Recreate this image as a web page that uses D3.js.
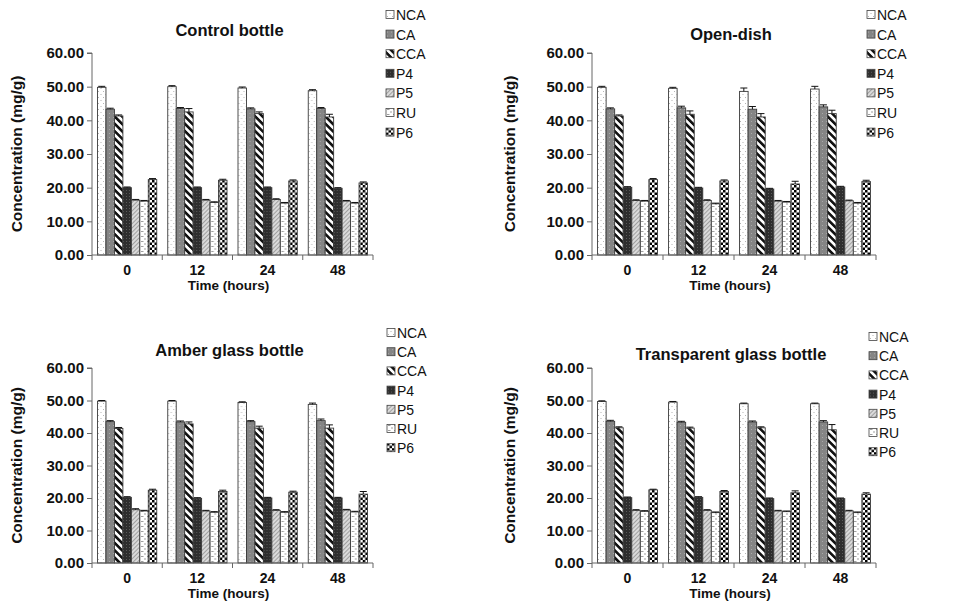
<!DOCTYPE html>
<meta charset="utf-8">
<script src="https://cdn.jsdelivr.net/npm/d3@7"></script>
<style>
  body { margin: 0; background: #fff; }
  text { font-family: "Liberation Sans", Arial, sans-serif; fill: #111; }
</style>
<div id="chart"></div>
<script>
  // series / category names
  const compounds = ["NCA", "CA", "CCA", "P4", "P5", "RU", "P6"];
  const times = ["0", "12", "24", "48"];
  const yTicks = [0, 10, 20, 30, 40, 50, 60];
  const titles = ["Control bottle", "Open-dish", "Amber glass bottle", "Transparent glass bottle"];

  // mean concentration (mg/g), one row per time point, columns follow `compounds`
  const controlBottle = [
    [49.8, 43.3, 41.3, 20.0, 16.3, 16.0, 22.4],
    [50.0, 43.5, 42.5, 20.0, 16.3, 15.6, 22.2],
    [49.6, 43.4, 42.0, 20.0, 16.5, 15.4, 22.0],
    [48.8, 43.5, 41.0, 19.8, 16.0, 15.4, 21.4]
  ];
  const openDish = [
    [49.8, 43.4, 41.3, 20.1, 16.2, 16.0, 22.4],
    [49.5, 43.7, 41.8, 19.9, 16.2, 15.2, 22.0],
    [48.6, 43.3, 41.0, 19.6, 16.0, 15.7, 21.1],
    [49.3, 44.0, 42.0, 20.2, 16.1, 15.4, 21.8]
  ];
  const amberBottle = [
    [49.8, 43.5, 41.4, 20.2, 16.4, 16.0, 22.4],
    [49.8, 43.4, 42.8, 19.9, 16.0, 15.6, 22.0],
    [49.4, 43.5, 41.5, 20.0, 16.2, 15.6, 21.8],
    [48.8, 43.8, 41.5, 20.0, 16.3, 15.7, 21.2]
  ];
  const transparentBottle = [
    [49.7, 43.6, 41.6, 20.1, 16.2, 15.9, 22.5],
    [49.5, 43.3, 41.5, 20.2, 16.2, 15.5, 22.0],
    [49.0, 43.4, 41.6, 19.8, 16.0, 15.8, 21.6],
    [49.0, 43.4, 41.0, 19.8, 16.0, 15.5, 21.2]
  ];

  // standard deviations (upper error bars)
  const controlErr = [
    [0.3, 0.3, 0.3, 0.2, 0.2, 0.2, 0.3],
    [0.3, 0.3, 1.0, 0.2, 0.2, 0.2, 0.3],
    [0.3, 0.3, 0.5, 0.2, 0.2, 0.2, 0.3],
    [0.3, 0.3, 0.8, 0.2, 0.2, 0.2, 0.3]
  ];
  const openErr = [
    [0.3, 0.3, 0.3, 0.2, 0.2, 0.2, 0.3],
    [0.3, 0.5, 1.0, 0.2, 0.2, 0.2, 0.3],
    [1.0, 0.8, 1.0, 0.2, 0.2, 0.2, 0.8],
    [0.8, 0.6, 1.0, 0.2, 0.2, 0.2, 0.4]
  ];
  const amberErr = [
    [0.2, 0.3, 0.3, 0.2, 0.3, 0.2, 0.3],
    [0.2, 0.3, 0.6, 0.2, 0.2, 0.2, 0.4],
    [0.2, 0.3, 0.6, 0.2, 0.2, 0.2, 0.3],
    [0.4, 0.5, 1.0, 0.2, 0.2, 0.2, 0.8]
  ];
  const transparentErr = [
    [0.2, 0.3, 0.3, 0.2, 0.2, 0.2, 0.2],
    [0.2, 0.3, 0.3, 0.2, 0.2, 0.2, 0.3],
    [0.2, 0.3, 0.3, 0.2, 0.2, 0.2, 0.6],
    [0.2, 0.4, 1.6, 0.2, 0.2, 0.2, 0.4]
  ];

  const panelData = [controlBottle, openDish, amberBottle, transparentBottle];
  const panelErr = [controlErr, openErr, amberErr, transparentErr];

  // layout for each panel
  const layout = [
    { x0: 92, x1: 373, top: 53, bottom: 255, titleY: 36, legX: 386, legY: 15, legStep: 19.6, yLabX: 22 },
    { x0: 592, x1: 876, top: 53, bottom: 255, titleY: 40, legX: 867, legY: 15, legStep: 19.6, yLabX: 515 },
    { x0: 92, x1: 373, top: 368, bottom: 563, titleY: 356, legX: 387, legY: 333, legStep: 19.2, yLabX: 22 },
    { x0: 592, x1: 876, top: 368, bottom: 563, titleY: 360, legX: 869, legY: 337, legStep: 19.2, yLabX: 515 }
  ];

  const width = 979, height = 609;
  const svg = d3.select("#chart").append("svg")
    .attr("width", width).attr("height", height);

  // fill patterns, one per compound
  const defs = svg.append("defs");
  function pattern(id, w, h, bg, transform) {
    const p = defs.append("pattern").attr("id", id)
      .attr("patternUnits", "userSpaceOnUse")
      .attr("width", w).attr("height", h);
    if (transform) p.attr("patternTransform", transform);
    p.append("rect").attr("width", w).attr("height", h).attr("fill", bg);
    return p;
  }
  let p = pattern("pNCA", 5, 6, "#ffffff");
  p.append("rect").attr("x", 1).attr("y", 1).attr("width", 1).attr("height", 1).attr("fill", "#b4b4b4");
  p.append("rect").attr("x", 3.5).attr("y", 4).attr("width", 1).attr("height", 1).attr("fill", "#b4b4b4");

  p = pattern("pCA", 4, 4, "#858585");
  p.append("rect").attr("x", 1).attr("y", 1).attr("width", 1).attr("height", 1).attr("fill", "#a8a8a8");

  p = pattern("pCCA", 5.2, 5.2, "#ffffff", "rotate(-45)");
  p.append("rect").attr("x", 0).attr("y", 0).attr("width", 2.6).attr("height", 5.2).attr("fill", "#111");

  p = pattern("pP4", 3, 3, "#2e2e2e");
  p.append("rect").attr("x", 1).attr("y", 1).attr("width", 1).attr("height", 1).attr("fill", "#5a5a5a");

  p = pattern("pP5", 3, 3, "#dadada", "rotate(45)");
  p.append("rect").attr("x", 0).attr("y", 0).attr("width", 1).attr("height", 3).attr("fill", "#a0a0a0");

  p = pattern("pRU", 6, 5, "#ffffff");
  p.append("rect").attr("x", 1).attr("y", 1).attr("width", 2.5).attr("height", 1).attr("fill", "#a0a0a0");
  p.append("rect").attr("x", 4).attr("y", 3.5).attr("width", 2).attr("height", 1).attr("fill", "#a0a0a0");

  p = pattern("pP6", 5, 5, "#ffffff");
  p.append("rect").attr("x", 0).attr("y", 0).attr("width", 2.5).attr("height", 2.5).attr("fill", "#000");
  p.append("rect").attr("x", 2.5).attr("y", 2.5).attr("width", 2.5).attr("height", 2.5).attr("fill", "#000");

  const fillOf = c => `url(#p${c})`;

  layout.forEach((L, pi) => {
    const g = svg.append("g");
    const data = panelData[pi], err = panelErr[pi];

    const x = d3.scaleBand().domain(times).range([L.x0, L.x1]);
    const bw = x.bandwidth() / 8.3;
    const xs = d3.scaleBand().domain(compounds)
      .range([0.65 * bw, 7.65 * bw]);
    const y = d3.scaleLinear().domain([0, 60]).range([L.bottom, L.top]);

    // title
    g.append("text")
      .attr("x", (L.x0 + L.x1) / 2 - 3).attr("y", L.titleY)
      .attr("text-anchor", "middle")
      .style("font-size", "16.5px").style("font-weight", "bold")
      .text(titles[pi]);

    // bars
    times.forEach((t, ti) => {
      const grp = g.append("g").attr("transform", `translate(${x(t)},0)`);
      grp.selectAll("rect").data(compounds).join("rect")
        .attr("x", c => xs(c))
        .attr("y", (c, ci) => y(data[ti][ci]))
        .attr("width", xs.bandwidth())
        .attr("height", (c, ci) => y(0) - y(data[ti][ci]))
        .attr("fill", c => fillOf(c))
        .attr("stroke", "#3a3a3a").attr("stroke-width", 0.9);

      // error bars (upper half only)
      const eb = grp.selectAll("g.err").data(compounds).join("g").attr("class", "err");
      eb.append("line")
        .attr("x1", c => xs(c) + xs.bandwidth() / 2)
        .attr("x2", c => xs(c) + xs.bandwidth() / 2)
        .attr("y1", (c, ci) => y(data[ti][ci]))
        .attr("y2", (c, ci) => y(data[ti][ci] + err[ti][ci]))
        .attr("stroke", "#111").attr("stroke-width", 1);
      eb.append("line")
        .attr("x1", c => xs(c) + xs.bandwidth() / 2 - 3.5)
        .attr("x2", c => xs(c) + xs.bandwidth() / 2 + 3.5)
        .attr("y1", (c, ci) => y(data[ti][ci] + err[ti][ci]))
        .attr("y2", (c, ci) => y(data[ti][ci] + err[ti][ci]))
        .attr("stroke", "#111").attr("stroke-width", 1);
    });

    // y axis
    const yAxis = g.append("g")
      .attr("transform", `translate(${L.x0},0)`)
      .call(d3.axisLeft(y).tickValues(yTicks).tickFormat(d3.format(".2f")).tickSize(5).tickPadding(3));
    yAxis.selectAll("text").style("font-size", "15px").style("font-weight", "bold");
    yAxis.selectAll("path, line").attr("stroke", "#666");
    yAxis.select(".domain").attr("d", `M-5,${L.top}H0V${L.bottom}`);

    // x axis: ticks at category boundaries, labels at centres
    const xAxis = g.append("g").attr("transform", `translate(0,${L.bottom})`);
    xAxis.append("line").attr("x1", L.x0).attr("x2", L.x1).attr("stroke", "#666");
    xAxis.selectAll("line.tk").data(times.map(t => x(t)).concat([L.x1])).join("line")
      .attr("class", "tk")
      .attr("x1", d => d).attr("x2", d => d).attr("y1", 0).attr("y2", 5)
      .attr("stroke", "#666");
    xAxis.selectAll("text").data(times).join("text")
      .attr("x", t => x(t) + x.bandwidth() / 2).attr("y", 20)
      .attr("text-anchor", "middle")
      .style("font-size", "14px").style("font-weight", "bold")
      .text(t => t);
    xAxis.append("text")
      .attr("x", (L.x0 + L.x1) / 2 - 4).attr("y", 35)
      .attr("text-anchor", "middle")
      .style("font-size", "13.5px").style("font-weight", "bold")
      .text("Time (hours)");

    // y axis label
    g.append("text")
      .attr("transform", `translate(${L.yLabX},${(L.top + L.bottom) / 2}) rotate(-90)`)
      .attr("text-anchor", "middle")
      .style("font-size", "15.5px").style("font-weight", "bold")
      .text("Concentration (mg/g)");

    // legend
    const leg = g.append("g").attr("transform", `translate(${L.legX},${L.legY})`);
    const item = leg.selectAll("g").data(compounds).join("g")
      .attr("transform", (c, i) => `translate(0,${i * L.legStep})`);
    item.append("rect")
      .attr("x", 0).attr("y", -4.5).attr("width", 8).attr("height", 8)
      .attr("fill", c => fillOf(c)).attr("stroke", "#444").attr("stroke-width", 0.8);
    item.append("text")
      .attr("x", 10).attr("y", 0).attr("dy", "0.36em")
      .style("font-size", "14px")
      .text(c => c);
  });
</script>
